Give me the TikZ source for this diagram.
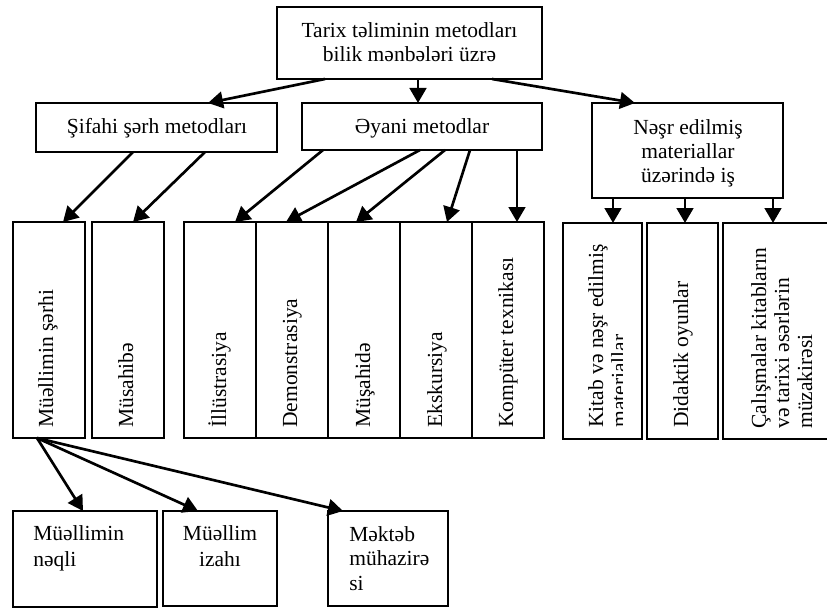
\documentclass[tikz,border=0pt]{standalone}
\usepackage{fontspec}
\setmainfont{Liberation Serif}
\usetikzlibrary{arrows.meta,fit,calc}

\newcommand\clines[2]{\vtop{\baselineskip=#1\halign{\hfil##\hfil\cr#2\crcr}}}
\newcommand\llines[2]{\vtop{\baselineskip=#1\halign{##\hfil\cr#2\crcr}}}

\begin{document}
\begin{tikzpicture}[x=0.6pt,y=-0.6pt,
  box/.style={draw, line width=1.3pt, inner sep=0pt, outer sep=0pt, rectangle},
  arr/.style={line width=1.6pt, -{Triangle[length=9pt,width=10pt]}},
  lbl/.style={inner sep=0pt, font=\fontsize{12.9}{15}\selectfont},
  vlbl/.style={lbl, rotate=90, anchor=base west}]
\clip (0,0) rectangle (827,608);

% level 0 and 1 boxes
\node[box, fit={(277,7) (542,79)}] (top) {};
\node[box, fit={(36,103) (277,152)}] (sif) {};
\node[box, fit={(302,103) (542,150)}] (ey) {};
\node[box, fit={(592,103) (783,198)}] (nesr) {};

% level 2 boxes
\node[box, fit={(13,222) (85,438)}] (ms) {};
\node[box, fit={(92,222) (164,438)}] (mus) {};
\node[box, fit={(184,222) (256,438)}] (ill) {};
\node[box, fit={(256,222) (328,438)}] (dem) {};
\node[box, fit={(328,222) (400,438)}] (mush) {};
\node[box, fit={(400,222) (472,438)}] (eks) {};
\node[box, fit={(472,222) (544,438)}] (komp) {};
\node[box, fit={(563,223) (642,439)}] (kitab) {};
\node[box, fit={(647,223) (718,439)}] (did) {};
\node[box, fit={(723,223) (845,439)}] (cal) {};

% level 3 boxes
\node[box, fit={(13,511) (157,607)}] (neqli) {};
\node[box, fit={(163,511) (277,606)}] (izah) {};
\node[box, fit={(328,511) (448,606)}] (mek) {};

% texts
\node[lbl, anchor=base] (tTop) at (409.5,38) {\clines{14.4pt}{Tarix təliminin metodları\cr bilik mənbələri üzrə}};
\node[lbl, anchor=base] (tSif) at (157,133) {Şifahi şərh metodları};
\node[lbl, anchor=base] (tEy) at (422,133) {Əyani metodlar};
\node[lbl, anchor=base] (tNesr) at (688,135) {\clines{14.4pt}{Nəşr edilmiş\cr materiallar\cr üzərində iş}};

\node[vlbl] (tMs) at (53,428) {Müəllimin şərhi};
\node[vlbl] (tMus) at (133,428) {Müsahibə};
\node[vlbl] (tIll) at (226,428) {İllüstrasiya};
\node[vlbl] (tDem) at (297,428) {Demonstrasiya};
\node[vlbl] (tMush) at (370,428) {Müşahidə};
\node[vlbl] (tEks) at (442,428) {Ekskursiya};
\node[vlbl] (tKomp) at (513,428) {Kompüter texnikası};
\begin{scope}
\clip (563,223) rectangle (622,439);
\node[vlbl] (tKitab) at (603,428) {\llines{13.8pt}{Kitab və nəşr edilmiş\cr materiallar}};
\end{scope}
\node[vlbl] (tDid) at (688,428) {Didaktik oyunlar};
\node[vlbl] (tCal) at (766,429) {\llines{13.8pt}{Çalışmalar kitabların\cr və tarixi əsərlərin\cr müzakirəsi}};

\node[lbl, anchor=base west] (tNeqli) at (33,540) {\llines{15.6pt}{Müəllimin\cr nəqli}};
\node[lbl, anchor=base] (tIzah) at (220,540) {\clines{15.6pt}{Müəllim\cr izahı}};
\node[lbl, anchor=base west] (tMek) at (349,541) {\llines{14.7pt}{Məktəb\cr mühazirə\cr si}};

% connectors
\draw[arr] ($(top.south west)+(48,0)$) -- ($(sif.north west)+(172,0)$);
\draw[arr] ($(top.south west)+(141,0)$) -- ($(ey.north west)+(116,0)$);
\draw[arr] ($(top.south west)+(215,0)$) -- ($(nesr.north west)+(43,0)$);

\draw[arr] ($(sif.south west)+(97,0)$) -- ($(ms.north west)+(50,0)$);
\draw[arr] ($(sif.south west)+(169,0)$) -- ($(mus.north west)+(41,0)$);

\draw[arr] ($(ey.south west)+(21,0)$) -- ($(ill.north west)+(51,0)$);
\draw[arr] ($(ey.south west)+(118,0)$) -- ($(dem.north west)+(30,0)$);
\draw[arr] ($(ey.south west)+(143,0)$) -- ($(mush.north west)+(28,0)$);
\draw[arr] ($(ey.south west)+(168,0)$) -- ($(eks.north west)+(47,0)$);
\draw[arr] ($(ey.south west)+(215,0)$) -- ($(komp.north west)+(45,0)$);

\draw[arr] ($(nesr.south west)+(21,0)$) -- ($(kitab.north west)+(50,0)$);
\draw[arr] ($(nesr.south west)+(93,0)$) -- ($(did.north west)+(38,0)$);
\draw[arr] ($(nesr.south west)+(181,0)$) -- ($(cal.north west)+(50,0)$);

\draw[arr] ($(ms.south west)+(24,0)$) -- ($(neqli.north west)+(70,0)$);
\draw[arr] ($(ms.south west)+(24,0)$) -- ($(izah.north west)+(35,0)$);
\draw[arr] ($(ms.south west)+(24,0)$) -- ($(mek.north west)+(15,0)$);
\end{tikzpicture}
\end{document}
